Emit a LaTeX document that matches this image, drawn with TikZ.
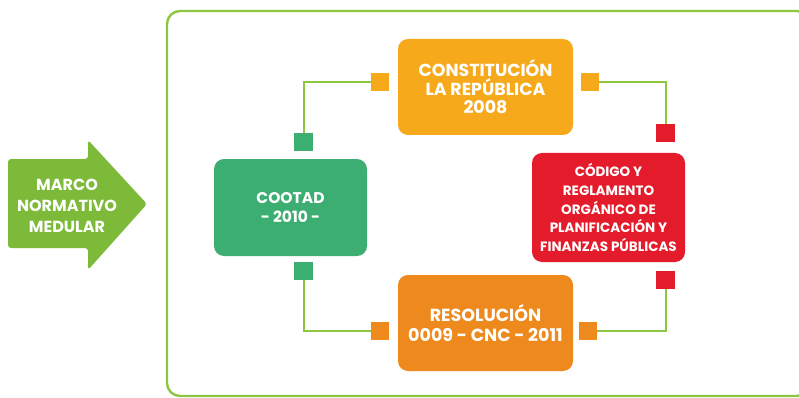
\documentclass[tikz,border=0pt]{standalone}
\usepackage{fontspec}
\setmainfont{Poppins}
\usepackage{tikz}
\definecolor{linegreen}{HTML}{8DC63F}
\definecolor{arrowgreen}{HTML}{7DBA3A}
\definecolor{amber}{HTML}{F6A91B}
\definecolor{deeporange}{HTML}{EE8A1D}
\definecolor{signred}{HTML}{E31B2B}
\definecolor{medgreen}{HTML}{3DAE72}
\newcommand{\labelfont}[2]{\bfseries\fontsize{#1}{#2}\selectfont}

\begin{document}
\begin{tikzpicture}[x=1pt,y=-1pt,
  box/.style={rounded corners=10pt,inner sep=0pt,align=center,text=white,
    minimum width=175pt,minimum height=96pt},
  port/.style={inner sep=0pt,minimum size=18.5pt},
  link/.style={draw=linegreen,line width=2pt}]
 \useasboundingbox (0,0) rectangle (799,398);
 % frame
 \draw[linegreen,line width=2.4pt,rounded corners=13pt] (167,11) rectangle (810,396);
 % arrow
 \fill[arrowgreen,rounded corners=3pt] (8,159) -- (88,159) -- (88,140) -- (147,204)
   -- (88,270) -- (88,248) -- (8,248) -- cycle;
 \node[text=white,align=center,font=\labelfont{16}{21}] (marco) at (67,206)
   {MARCO\\NORMATIVO\\MEDULAR};

 \node[box,fill=amber,font=\labelfont{17.4}{18.5}] (cons) at (485.5,87) {CONSTITUCIÓN\\LA REPÚBLICA\\2008};
 \node[box,fill=medgreen,font=\labelfont{15.5}{19},minimum width=153pt,minimum height=97pt] (coot) at (290.5,207.5) {COOTAD\\- 2010 -};
 \node[box,fill=signred,font=\labelfont{13.5}{18.75},minimum width=153pt,minimum height=109pt] (cod) at (608.5,207.5)
   {CÓDIGO Y\\REGLAMENTO\\ORGÁNICO DE\\PLANIFICACIÓN Y\\FINANZAS PÚBLICAS};
 \node[box,fill=deeporange,font=\labelfont{17.5}{20}] (res) at (485.5,323) {RESOLUCIÓN\\0009 - CNC - 2011};

 \node[port,fill=amber] (cons-w) at (380,82) {};
 \node[port,fill=amber] (cons-e) at (590,82) {};
 \node[port,fill=medgreen] (coot-n) at (303.5,142) {};
 \node[port,fill=medgreen] (coot-s) at (303.5,271) {};
 \node[port,fill=signred] (cod-n) at (665.5,133) {};
 \node[port,fill=signred] (cod-s) at (665.5,280) {};
 \node[port,fill=deeporange] (res-w) at (380,331) {};
 \node[port,fill=deeporange] (res-e) at (588,331) {};

 \path[link] (cons-w) -| (coot-n)
   (coot-s) |- (res-w)
   (res-e) -| (cod-s)
   (cod-n) |- (cons-e);
\end{tikzpicture}
\end{document}
